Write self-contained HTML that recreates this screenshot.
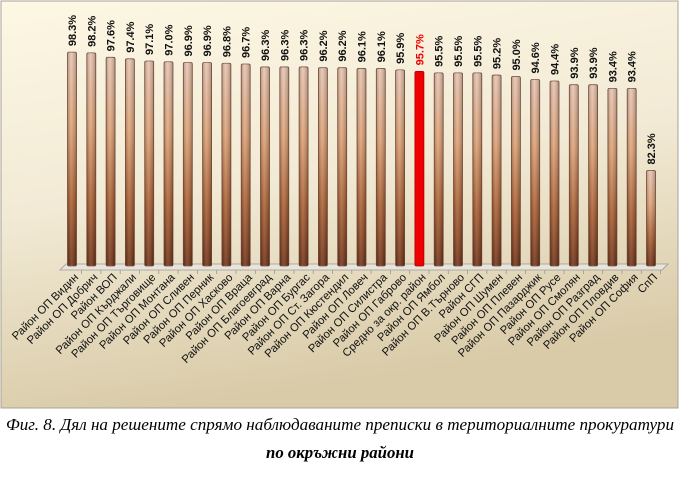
<!DOCTYPE html>
<html><head><meta charset="utf-8"><style>
body{margin:0;width:680px;height:478px;background:#fff;overflow:hidden}
</style></head><body>
<svg width="680" height="478" xmlns="http://www.w3.org/2000/svg">
<defs>
<linearGradient id="bg" x1="0" y1="0" x2="0.25" y2="1">
<stop offset="0" stop-color="#fdf7e3"/><stop offset="0.5" stop-color="#f2ead5"/><stop offset="1" stop-color="#d9cba8"/>
</linearGradient>
<linearGradient id="bar" x1="0" y1="0" x2="0" y2="1">
<stop offset="0" stop-color="#e6c2ae"/><stop offset="0.35" stop-color="#dc9f72"/><stop offset="0.7" stop-color="#a65a2c"/><stop offset="1" stop-color="#6b2c10"/>
</linearGradient>
<linearGradient id="barh" x1="0" y1="0" x2="1" y2="0">
<stop offset="0" stop-color="#000" stop-opacity="0.2"/><stop offset="0.4" stop-color="#fff" stop-opacity="0.15"/><stop offset="1" stop-color="#000" stop-opacity="0.25"/>
</linearGradient>
</defs>
<rect x="1" y="1" width="677" height="407" fill="url(#bg)" stroke="#a8a29a" stroke-width="1"/>
<polygon points="60,270 66,264 668,264 662,270" fill="#e8e4da" stroke="#999" stroke-width="0.8"/>
<g id="chart"></g>
<text x="340" y="430" font-family="Liberation Serif, serif" font-style="italic" font-size="17" text-anchor="middle" textLength="668" lengthAdjust="spacingAndGlyphs">Фиг. 8. Дял на решените спрямо наблюдаваните преписки в териториалните прокуратури</text>
<text x="340" y="458" font-family="Liberation Serif, serif" font-style="italic" font-weight="bold" font-size="17" text-anchor="middle" textLength="148" lengthAdjust="spacingAndGlyphs">по окръжни райони</text>
</svg>
<script>
const names=["Район ОП Видин","Район ОП Добрич","Район ВОП","Район ОП Кърджали","Район ОП Търговище","Район ОП Монтана","Район ОП Сливен","Район ОП Перник","Район ОП Хасково","Район ОП Враца","Район ОП Благоевград","Район ОП Варна","Район ОП Бургас","Район ОП Ст. Загора","Район ОП Кюстендил","Район ОП Ловеч","Район ОП Силистра","Район ОП Габрово","Средно за окр. район","Район ОП Ямбол","Район ОП В.Търново","Район СГП","Район ОП Шумен","Район ОП Плевен","Район ОП Пазарджик","Район ОП Русе","Район ОП Смолян","Район ОП Разград","Район ОП Пловдив","Район ОП София","СпП"];
const vals=[98.3,98.2,97.6,97.4,97.1,97.0,96.9,96.9,96.8,96.7,96.3,96.3,96.3,96.2,96.2,96.1,96.1,95.9,95.7,95.5,95.5,95.5,95.2,95.0,94.6,94.4,93.9,93.9,93.4,93.4,82.3];
let s="";const base=266;
vals.forEach((v,i)=>{const cx=72+i*19.3;const top=base-(v-69.4)*7.4;const red=i==18;
s+=`<rect x="${cx-4.5}" y="${top}" width="9" height="${base-top}" rx="1.5" fill="${red?'#ee0000':'url(#bar)'}" stroke="${red?'#b00000':'#7a5040'}" stroke-width="0.8"/>`;
if(!red)s+=`<rect x="${cx-4.5}" y="${top}" width="9" height="${base-top}" fill="url(#barh)"/>`;
s+=`<line x1="${cx+9.6}" y1="270" x2="${cx+9.6}" y2="274" stroke="#999" stroke-width="0.8"/>`;
s+=`<text transform="translate(${cx+4},${top-6}) rotate(-90)" font-family="Liberation Sans, sans-serif" font-weight="bold" font-size="11" fill="${red?'#e00':'#111'}">${v.toFixed(1)}%</text>`;
s+=`<text transform="translate(${cx+7},${278}) rotate(-45)" text-anchor="end" font-family="Liberation Sans, sans-serif" font-size="11.3" fill="#111">${names[i]}</text>`;});
document.getElementById("chart").innerHTML=s;
</script>
</body></html>
